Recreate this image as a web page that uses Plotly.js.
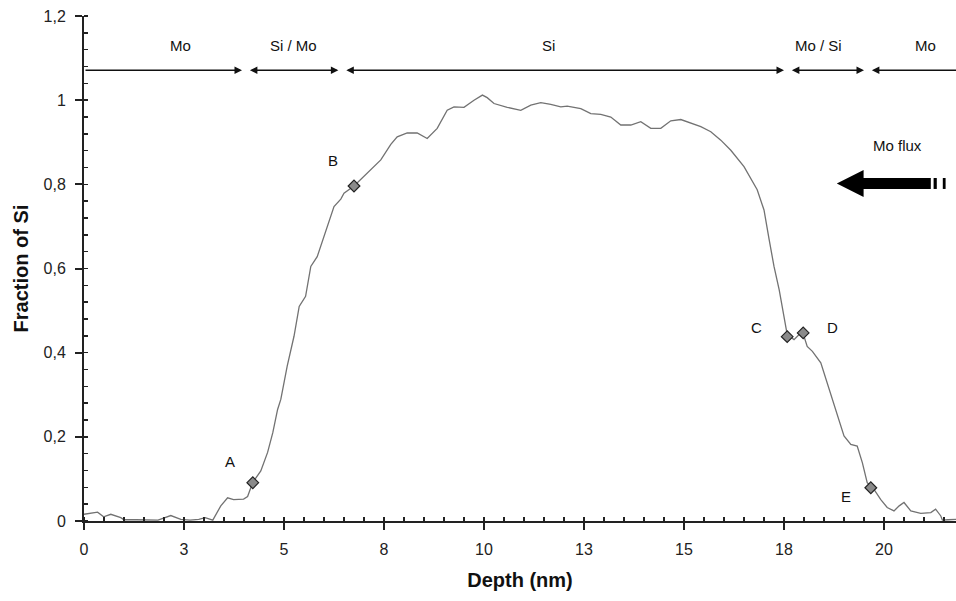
<!DOCTYPE html>
<html>
<head>
<meta charset="utf-8">
<script src="https://cdn.plot.ly/plotly-3.0.1.min.js"></script>
<style>html,body{margin:0;padding:0;background:#fff;}#chart{width:956px;height:601px;}</style>
</head>
<body>
<div id="chart"></div>
<script>
// Depth profile of Si fraction
const depth = [0.0,0.1,0.34,0.49,0.67,0.92,1.0,1.3,1.6,1.85,2.17,2.42,2.65,2.87,3.03,3.17,3.22,3.42,3.59,3.74,3.99,4.09,4.22,4.42,4.59,4.72,4.84,4.92,5.08,5.25,5.38,5.54,5.67,5.83,6.0,6.25,6.42,6.5,6.75,7.08,7.42,7.67,7.83,8.08,8.33,8.58,8.83,9.08,9.25,9.5,9.75,9.96,10.08,10.25,10.58,10.92,11.17,11.42,11.67,11.92,12.08,12.42,12.67,12.92,13.17,13.42,13.67,13.92,14.17,14.42,14.67,14.92,15.17,15.42,15.67,15.92,16.17,16.5,16.83,17.0,17.13,17.25,17.38,17.5,17.58,17.75,17.96,18.08,18.21,18.42,18.58,18.79,18.83,19.0,19.17,19.33,19.46,19.58,19.75,19.92,20.08,20.25,20.38,20.5,20.67,20.92,21.17,21.29,21.42,21.46,21.6,21.8];
const fractionSi = [0.016,0.018,0.021,0.010,0.016,0.008,0.003,0.003,0.003,0.002,0.013,0.004,0.002,0.004,0.008,0.004,0.002,0.036,0.055,0.051,0.052,0.058,0.092,0.119,0.163,0.210,0.265,0.289,0.368,0.439,0.510,0.534,0.605,0.628,0.676,0.747,0.765,0.779,0.796,0.826,0.858,0.895,0.913,0.922,0.922,0.909,0.933,0.976,0.984,0.983,1.000,1.012,1.006,0.992,0.983,0.976,0.988,0.994,0.990,0.984,0.986,0.980,0.968,0.966,0.960,0.941,0.941,0.949,0.933,0.933,0.951,0.954,0.946,0.937,0.925,0.905,0.881,0.842,0.787,0.739,0.668,0.605,0.549,0.479,0.443,0.431,0.451,0.415,0.403,0.376,0.328,0.265,0.249,0.202,0.182,0.178,0.138,0.091,0.075,0.051,0.032,0.024,0.036,0.044,0.024,0.018,0.020,0.028,0.012,0.002,0.003,0.004];

// Marked points A-E
const pointLabels = ['A','B','C','D','E'];
const pointDepth = [4.22, 6.75, 17.58, 17.98, 19.67];
const pointFraction = [0.091, 0.796, 0.438, 0.447, 0.079];
const pointLabelDepth = [3.65, 6.22, 16.8, 18.7, 19.05];
const pointLabelFraction = [0.142, 0.857, 0.459, 0.459, 0.058];

// Layer regions along the top
const regionBounds = [0, 4.03, 6.44, 17.58, 19.58, 21.8];
const regionLabels = ['Mo', 'Si / Mo', 'Si', 'Mo / Si', 'Mo'];
const regionLabelDepth = [2.42, 5.24, 11.6, 18.37, 21.04];
const regionLineY = 1.071;
const regionLabelY = 1.13;

// X ticks
const xTickVals = [0, 2.5, 5, 7.5, 10, 12.5, 15, 17.5, 20];
const xTickText = ['0', '3', '5', '8', '10', '13', '15', '18', '20'];

const FONT = 'Liberation Sans, Arial, sans-serif';

const traces = [
  {x: depth, y: fractionSi, type: 'scatter', mode: 'lines',
   line: {color: '#727272', width: 1.3}, hoverinfo: 'skip'},
  {x: pointDepth, y: pointFraction, type: 'scatter', mode: 'markers',
   marker: {symbol: 'diamond', size: 9, color: '#8a8a8a', line: {color: '#222', width: 1.2}}}
];

const annotations = [];
const gap = 0.08;
for (let i = 0; i < regionLabels.length; i++) {
  const a = regionBounds[i], b = regionBounds[i + 1];
  const first = i === 0, last = i === regionLabels.length - 1;
  const start = first ? a : a + gap;
  const end = last ? b : b - gap;
  annotations.push({
    x: end, y: regionLineY, ax: start, ay: regionLineY,
    xref: 'x', yref: 'y', axref: 'x', ayref: 'y', text: '',
    showarrow: true, arrowcolor: '#111', arrowwidth: 1.5, arrowsize: 1,
    arrowhead: last ? 0 : 2, startarrowhead: 2,
    arrowside: first ? 'end' : (last ? 'start' : 'end+start'),
    standoff: 0, startstandoff: 0
  });
  annotations.push({
    x: regionLabelDepth[i], y: regionLabelY, xref: 'x', yref: 'y',
    text: regionLabels[i], showarrow: false,
    font: {family: FONT, size: 15, color: '#111'}
  });
}
for (let i = 0; i < pointLabels.length; i++) {
  annotations.push({
    x: pointLabelDepth[i], y: pointLabelFraction[i], xref: 'x', yref: 'y',
    text: pointLabels[i], showarrow: false,
    font: {family: FONT, size: 15, color: '#111'}
  });
}
annotations.push({
  x: 20.34, y: 0.893, xref: 'x', yref: 'y', text: 'Mo flux', showarrow: false,
  font: {family: FONT, size: 15, color: '#111'}
});

const shapes = [
  {type: 'path', xref: 'x', yref: 'y', fillcolor: '#000', line: {width: 0},
   path: 'M18.82,0.802 L19.49,0.834 L19.49,0.815 L21.17,0.815 L21.17,0.789 L19.49,0.789 L19.49,0.770 Z'},
  {type: 'rect', xref: 'x', yref: 'y', x0: 21.24, x1: 21.32, y0: 0.789, y1: 0.815,
   fillcolor: '#000', line: {width: 0}},
  {type: 'rect', xref: 'x', yref: 'y', x0: 21.47, x1: 21.54, y0: 0.789, y1: 0.815,
   fillcolor: '#000', line: {width: 0}}
];

const layout = {
  width: 956, height: 601,
  margin: {l: 84, r: 0, t: 16, b: 80},
  paper_bgcolor: '#fff', plot_bgcolor: '#fff',
  showlegend: false,
  separators: ', ',
  font: {family: FONT, size: 16, color: '#222'},
  xaxis: {
    range: [0, 21.8], showgrid: false, zeroline: false,
    showline: true, linecolor: '#222', linewidth: 2,
    tickmode: 'array', tickvals: xTickVals, ticktext: xTickText,
    ticks: 'outside', ticklen: 7, tickwidth: 2, tickcolor: '#222',
    ticklabelstandoff: 6,
    minor: {dtick: 0.5, tick0: 0, ticks: 'inside', ticklen: 4, tickwidth: 1.5, tickcolor: '#222'},
    tickfont: {family: FONT, size: 16, color: '#222'},
    title: {text: 'Depth (nm)', standoff: 16, font: {family: FONT, size: 20, color: '#111', weight: 'bold'}}
  },
  yaxis: {
    range: [0, 1.2], showgrid: false, zeroline: false,
    showline: true, linecolor: '#222', linewidth: 2,
    dtick: 0.2, tick0: 0,
    ticks: 'outside', ticklen: 7, tickwidth: 2, tickcolor: '#222',
    ticklabelstandoff: 6,
    minor: {dtick: 0.04, tick0: 0, ticks: 'inside', ticklen: 4, tickwidth: 1.5, tickcolor: '#222'},
    tickfont: {family: FONT, size: 16, color: '#222'},
    title: {text: 'Fraction of Si', standoff: 10, font: {family: FONT, size: 20, color: '#111', weight: 'bold'}}
  },
  annotations: annotations,
  shapes: shapes
};

Plotly.newPlot('chart', traces, layout, {displayModeBar: false, staticPlot: true});
</script>
</body>
</html>
